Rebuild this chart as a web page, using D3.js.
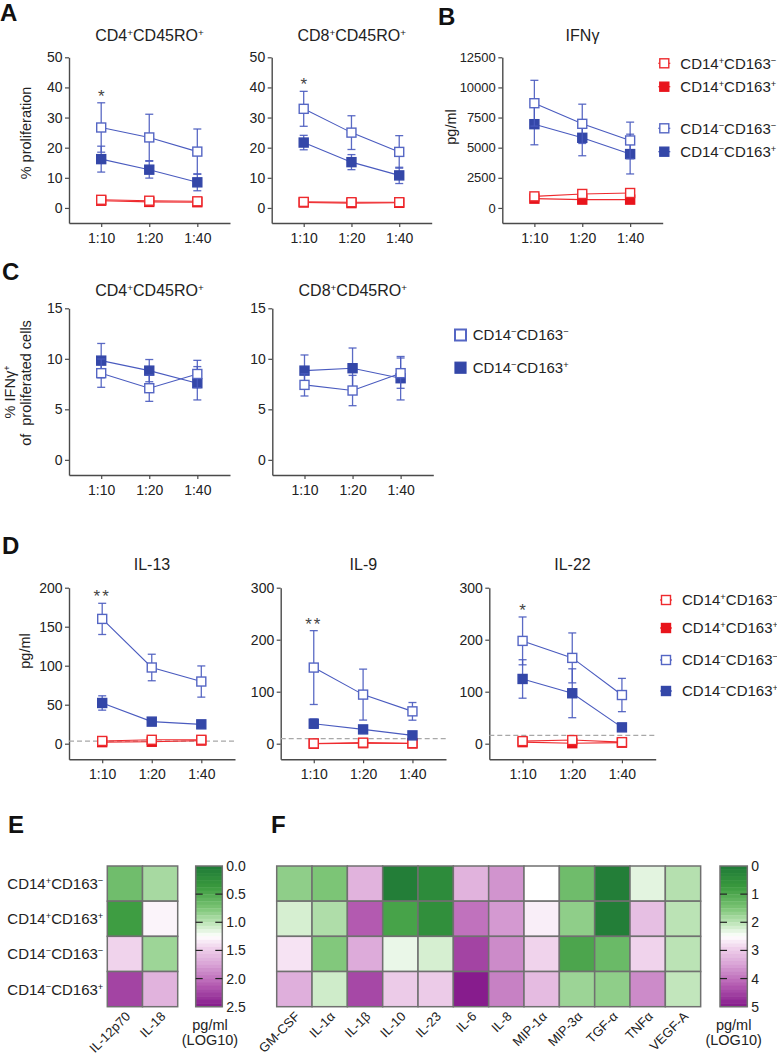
<!DOCTYPE html>
<html><head><meta charset="utf-8">
<script src="https://cdn.jsdelivr.net/npm/d3@7"></script>
<style>
body{margin:0;background:#fff;}
svg{display:block;font-family:Arial,"Liberation Sans",Helvetica,sans-serif;}
</style>
</head><body>
<svg id="chart" width="777" height="1055"></svg>
<script>
// ---------------- DATA ----------------
const ratios = ["1:10", "1:20", "1:40"];
const groups = ["CD14^+CD163^-", "CD14^+CD163^+", "CD14^-CD163^-", "CD14^-CD163^+"];

// Panel A: % proliferation (order: groups 0..3)
const cd4ProlMean = [[2.7, 2.4, 2.2], [2.4, 2.0, 1.9], [26.7, 23.4, 18.7], [16.2, 12.7, 8.5]];
const cd4ProlErr  = [[0.6, 0.5, 0.5], [0.5, 0.4, 0.4], [8.2, 7.7, 7.5], [4.3, 2.8, 2.8]];
const cd8ProlMean = [[2.0, 1.9, 1.9], [1.8, 1.6, 1.7], [32.9, 25.0, 18.6], [21.7, 15.2, 10.8]];
const cd8ProlErr  = [[0.4, 0.4, 0.4], [0.3, 0.3, 0.3], [5.8, 5.6, 5.4], [2.4, 2.5, 2.7]];
const sigCd4Prol = ["*", "", ""];
const sigCd8Prol = ["*", "", ""];

// Panel B: IFNγ pg/ml
const ifngMean = [[960, 1160, 1240], [770, 690, 690], [8690, 6980, 5600], [6950, 5820, 4470]];
const ifngErr  = [[250, 250, 280], [150, 150, 150], [1900, 1630, 1520], [1710, 1490, 1650]];

// Panel C: % IFNγ+ of proliferated cells (groups 2 and 3 only)
const cd4IfnMean = [[8.58, 7.09, 8.5], [9.82, 8.83, 7.58]];
const cd4IfnErr  = [[1.4, 1.3, 1.35], [1.7, 1.1, 1.65]];
const cd8IfnMean = [[7.42, 6.86, 8.58], [8.83, 9.07, 8.08]];
const cd8IfnErr  = [[1.1, 1.5, 1.5], [1.55, 2.0, 2.15]];

// Panel D: cytokines pg/ml
const il13Mean = [[3.5, 5, 5], [2, 2.5, 4], [160, 97.7, 79.7], [52.2, 28.3, 24.8]];
const il13Err  = [[2, 2, 2], [1.5, 1.5, 1.5], [20, 17, 20], [9.2, 3, 3]];
const il9Mean  = [[0.5, 2, 1], [0, 1, 0.5], [146.4, 94.4, 62.2], [38.5, 27.5, 16]];
const il9Err   = [[1, 2, 1], [1, 1, 1], [71, 49, 17], [9, 4, 3]];
const il22Mean = [[5, 7, 3], [3, 1, 2], [197.7, 165, 93.6], [124.5, 97, 31.4]];
const il22Err  = [[3, 4, 2], [2, 1, 1], [46, 48, 32], [37, 47, 5]];
const sigIl13 = ["**", "", ""];
const sigIl9  = ["**", "", ""];
const sigIl22 = ["*", "", ""];
const lodIl13 = 3.3, lodIl9 = 9.6, lodIl22 = 16;

// Panel E heatmap (LOG10 pg/ml)
const eCols = ["IL-12p70", "IL-18"];
const eVals = [[0.68, 0.92], [0.40, 1.30], [1.45, 0.88], [2.25, 1.65]];
const eTicks = ["0.0", "0.5", "1.0", "1.5", "2.0", "2.5"];

// Panel F heatmap (LOG10 pg/ml)
const fCols = ["GM-CSF", "IL-1α", "IL-1β", "IL-10", "IL-23", "IL-6", "IL-8", "MIP-1α", "MIP-3α", "TGF-α", "TNFα", "VEGF-A"];
const fVals = [
  [1.65, 1.5, 3.3, 0.1, 0.4, 3.3, 3.65, 2.5, 1.35, 0.1, 2.3, 1.95],
  [2.2, 1.9, 4.25, 0.9, 0.5, 4.0, 3.6, 2.65, 1.65, 0.1, 3.15, 2.0],
  [2.75, 1.55, 3.4, 2.35, 2.2, 4.5, 3.75, 2.9, 0.95, 1.3, 2.9, 2.0],
  [3.35, 2.15, 4.45, 3.0, 3.0, 4.95, 3.85, 3.2, 1.75, 1.65, 3.75, 2.05]
];
const fTicks = ["0", "1", "2", "3", "4", "5"];

// ---------------- STYLE ----------------
const seriesStyle = [
  {color: "#ee2a2e", line: "#ee2a2e", open: true},
  {color: "#e8141c", line: "#ee2a2e", open: false},
  {color: "#5566c4", line: "#4a5bbf", open: true},
  {color: "#3447a8", line: "#4a5bbf", open: false}
];
const axisColor = "#4a4a4a";
const textColor = "#222";

const svg = d3.select("#chart");

function rich(sel, s) {
  const parts = s.split(/(\^[+\-])/);
  parts.forEach(p => {
    if (!p) return;
    if (p[0] === "^") {
      sel.append("tspan").attr("baseline-shift", "super").style("font-size", "62%")
        .text(p[1] === "+" ? "+" : "\u2212");
    } else {
      sel.append("tspan").text(p);
    }
  });
  return sel;
}

function linePanel(cfg) {
  const g = svg.append("g");
  const x = d3.scaleLinear().domain([-0.67, 2.68]).range([cfg.x0, cfg.x0 + cfg.w]);
  const y = d3.scaleLinear().domain([-cfg.ymax * 0.1, cfg.ymax]).range([cfg.yBot, cfg.yTop]);

  // y axis
  const ya = g.append("g").attr("transform", `translate(${cfg.x0},0)`)
    .call(d3.axisLeft(y).tickValues(cfg.ticks).tickFormat(d3.format("d")).tickSize(4).tickPadding(2.5).tickSizeOuter(0));
  ya.select(".domain").attr("stroke", axisColor).attr("stroke-width", 1.4);
  ya.selectAll(".tick line").attr("stroke", axisColor).attr("stroke-width", 1.2);
  ya.selectAll(".tick text").attr("fill", textColor).style("font-size", (cfg.tickFont || 14) + "px")
    .style("font-family", "Arial, 'Liberation Sans', sans-serif");

  // x axis
  const xa = g.append("g").attr("transform", `translate(0,${cfg.yBot})`)
    .call(d3.axisBottom(x).tickValues([0, 1, 2]).tickFormat((d, i) => ratios[i]).tickSize(4).tickPadding(6).tickSizeOuter(0));
  xa.select(".domain").attr("stroke", axisColor).attr("stroke-width", 1.4);
  xa.selectAll(".tick line").attr("stroke", axisColor).attr("stroke-width", 1.2);
  xa.selectAll(".tick text").attr("fill", textColor).style("font-size", "14px")
    .style("font-family", "Arial, 'Liberation Sans', sans-serif");

  // title
  rich(g.append("text").attr("x", cfg.x0 + cfg.w / 2).attr("y", cfg.titleY)
    .attr("text-anchor", "middle").attr("fill", textColor).style("font-size", "16px"), cfg.title);

  // LOD line
  if (cfg.lod != null) {
    g.append("line").attr("x1", cfg.x0).attr("x2", cfg.x0 + cfg.w)
      .attr("y1", y(cfg.lod)).attr("y2", y(cfg.lod))
      .attr("stroke", "#a8a8a8").attr("stroke-width", 1.3).attr("stroke-dasharray", "5,3");
  }

  const order = cfg.order;
  order.forEach(k => {
    const gi = cfg.gidx[k];
    const st = seriesStyle[gi];
    const m = cfg.means[k], e = cfg.errs[k];
    const sg = g.append("g");
    // error bars
    m.forEach((v, i) => {
      const cx = x(i);
      sg.append("line").attr("x1", cx).attr("x2", cx).attr("y1", y(v - e[i])).attr("y2", y(v + e[i]))
        .attr("stroke", st.line).attr("stroke-width", 1.3).attr("opacity", 0.9);
      [v - e[i], v + e[i]].forEach(b => {
        sg.append("line").attr("x1", cx - 4).attr("x2", cx + 4).attr("y1", y(b)).attr("y2", y(b))
          .attr("stroke", st.line).attr("stroke-width", 1.3).attr("opacity", 0.9);
      });
    });
    // connecting line
    sg.append("path").attr("d", d3.line().x((d, i) => x(i)).y(d => y(d))(m))
      .attr("fill", "none").attr("stroke", st.line).attr("stroke-width", 1.1);
    // markers
    const s = 9;
    m.forEach((v, i) => {
      sg.append("rect").attr("x", x(i) - s / 2).attr("y", y(v) - s / 2).attr("width", s).attr("height", s)
        .attr("fill", st.open ? "#fff" : st.color).attr("stroke", st.color).attr("stroke-width", 1.4);
    });
  });

  // significance
  if (cfg.sig) {
    cfg.sig.forEach((s, i) => {
      if (!s) return;
      const top = d3.max(cfg.means.map((m, k) => m[i] + cfg.errs[k][i]));
      g.append("text").attr("x", x(i)).attr("y", y(top) - 1).attr("text-anchor", "middle")
        .attr("fill", "#444").style("font-size", "17px").style("letter-spacing", s.length > 1 ? "2px" : "0px")
        .text(s);
    });
  }
}

function yLabel(x, y, txt) {
  svg.append("text").attr("transform", `translate(${x},${y}) rotate(-90)`).attr("text-anchor", "middle")
    .attr("fill", textColor).style("font-size", "14.5px").text(txt);
}

function panelLetter(x, y, t) {
  svg.append("text").attr("x", x).attr("y", y).attr("fill", "#111").style("font-size", "24px")
    .style("font-weight", "bold").text(t);
}

function legend(x, ys, idx) {
  idx.forEach((gi, r) => {
    const st = seriesStyle[gi];
    const yy = ys[r];
    svg.append("line").attr("x1", x - 6).attr("x2", x + 6).attr("y1", yy).attr("y2", yy)
      .attr("stroke", st.line).attr("stroke-width", 1.2);
    svg.append("rect").attr("x", x - 4.5).attr("y", yy - 4.5).attr("width", 9).attr("height", 9)
      .attr("fill", st.open ? "#fff" : st.color).attr("stroke", st.color).attr("stroke-width", 1.4);
    rich(svg.append("text").attr("x", x + 16).attr("y", yy).attr("dy", "0.36em").attr("fill", textColor)
      .style("font-size", "15px"), groups[gi]);
  });
}

// ---------------- PANEL A ----------------
panelLetter(0, 21, "A");
linePanel({x0: 69, w: 161, yTop: 57.3, yBot: 223, ymax: 50, ticks: [0, 10, 20, 30, 40, 50],
  means: cd4ProlMean, errs: cd4ProlErr, gidx: [0, 1, 2, 3], order: [1, 0, 3, 2],
  title: "CD4^+CD45RO^+", titleY: 40.5, sig: sigCd4Prol});
linePanel({x0: 271.7, w: 160, yTop: 57.3, yBot: 223, ymax: 50, ticks: [0, 10, 20, 30, 40, 50],
  means: cd8ProlMean, errs: cd8ProlErr, gidx: [0, 1, 2, 3], order: [1, 0, 3, 2],
  title: "CD8^+CD45RO^+", titleY: 40.5, sig: sigCd8Prol});
yLabel(31, 133, "% proliferation");

// ---------------- PANEL B ----------------
panelLetter(438, 25, "B");
linePanel({x0: 502.3, w: 160.4, yTop: 57.3, yBot: 223, ymax: 12500, ticks: [0, 2500, 5000, 7500, 10000, 12500],
  means: ifngMean, errs: ifngErr, gidx: [0, 1, 2, 3], order: [1, 0, 3, 2],
  title: "IFNγ", titleY: 40.5, tickFont: 13});
yLabel(455.5, 127, "pg/ml");
legend(664.3, [63.3, 86.7, 128.3, 151.7], [0, 1, 2, 3]);

// ---------------- PANEL C ----------------
panelLetter(2, 280, "C");
linePanel({x0: 69, w: 161, yTop: 308.3, yBot: 475, ymax: 15, ticks: [0, 5, 10, 15],
  means: cd4IfnMean, errs: cd4IfnErr, gidx: [2, 3], order: [1, 0],
  title: "CD4^+CD45RO^+", titleY: 296});
linePanel({x0: 272.3, w: 161, yTop: 308.3, yBot: 475, ymax: 15, ticks: [0, 5, 10, 15],
  means: cd8IfnMean, errs: cd8IfnErr, gidx: [2, 3], order: [1, 0],
  title: "CD8^+CD45RO^+", titleY: 296});
{
  const t1 = svg.append("text").attr("transform", "translate(14.5,392) rotate(-90)").attr("text-anchor", "middle")
    .attr("fill", textColor).style("font-size", "14.5px");
  t1.append("tspan").text("% IFNγ");
  t1.append("tspan").attr("baseline-shift", "super").style("font-size", "62%").text("+");
  svg.append("text").attr("transform", "translate(31,383) rotate(-90)").attr("text-anchor", "middle")
    .attr("fill", textColor).style("font-size", "14.5px").attr("xml:space", "preserve").text("of  proliferated cells");
  // legend C
  [2, 3].forEach((gi, r) => {
    const st = seriesStyle[gi];
    const yy = [335, 367.7][r];
    svg.append("rect").attr("x", 460.5 - 5.5).attr("y", yy - 5.5).attr("width", 11).attr("height", 11)
      .attr("fill", st.open ? "#fff" : st.color).attr("stroke", st.color).attr("stroke-width", st.open ? 2 : 1.2);
    rich(svg.append("text").attr("x", 472.7).attr("y", yy).attr("dy", "0.36em").attr("fill", textColor)
      .style("font-size", "15px"), groups[gi]);
  });
}

// ---------------- PANEL D ----------------
panelLetter(2, 554, "D");
linePanel({x0: 69, w: 166, yTop: 587.7, yBot: 759.3, ymax: 200, ticks: [0, 50, 100, 150, 200],
  means: il13Mean, errs: il13Err, gidx: [0, 1, 2, 3], order: [1, 0, 3, 2],
  title: "IL-13", titleY: 570, sig: sigIl13, lod: lodIl13});
linePanel({x0: 280.7, w: 165.3, yTop: 587.7, yBot: 759.3, ymax: 300, ticks: [0, 100, 200, 300],
  means: il9Mean, errs: il9Err, gidx: [0, 1, 2, 3], order: [1, 0, 3, 2],
  title: "IL-9", titleY: 570, sig: sigIl9, lod: lodIl9});
linePanel({x0: 489.3, w: 166.4, yTop: 587.7, yBot: 759.3, ymax: 300, ticks: [0, 100, 200, 300],
  means: il22Mean, errs: il22Err, gidx: [0, 1, 2, 3], order: [1, 0, 3, 2],
  title: "IL-22", titleY: 570, sig: sigIl22, lod: lodIl22});
yLabel(29.5, 651, "pg/ml");
legend(666, [600, 628, 660, 691], [0, 1, 2, 3]);

// ---------------- HEATMAPS ----------------
const colorStops = [[0, "#1f7a37"], [0.15, "#3a9a3e"], [0.3, "#7cc576"], [0.42, "#c8e9c2"], [0.5, "#ffffff"],
  [0.58, "#f0d3ec"], [0.7, "#d9a3d6"], [0.85, "#b35ab0"], [1, "#84188a"]];
const heat = d3.scaleLinear().domain(colorStops.map(d => d[0])).range(colorStops.map(d => d[1]))
  .interpolate(d3.interpolateRgb).clamp(true);

function heatmap(cfg) {
  const g = svg.append("g");
  const x = d3.scaleBand().domain(cfg.cols).range([cfg.x0, cfg.x0 + cfg.cellW * cfg.cols.length]);
  const y = d3.scaleBand().domain(groups).range([866, 1006.7]);
  const norm = d3.scaleLinear().domain([0, cfg.max]).range([0, 1]);
  cfg.vals.forEach((row, r) => {
    row.forEach((v, c) => {
      g.append("rect").attr("x", x(cfg.cols[c])).attr("y", y(groups[r]))
        .attr("width", x.bandwidth()).attr("height", y.bandwidth())
        .attr("fill", heat(norm(v))).attr("stroke", "#707070").attr("stroke-width", 1.5);
    });
  });
  // column labels
  cfg.cols.forEach(c => {
    const cx = x(c) + x.bandwidth() / 2 + 3;
    g.append("text").attr("transform", `translate(${cx},1014) rotate(-45)`).attr("text-anchor", "end")
      .attr("dy", "0.35em").attr("fill", textColor).style("font-size", "13px").text(c);
  });
  if (cfg.rowLabels) {
    groups.forEach(gname => {
      rich(g.append("text").attr("x", cfg.x0 - 4).attr("y", y(gname) + y.bandwidth() / 2).attr("dy", "0.36em")
        .attr("text-anchor", "end").attr("fill", textColor).style("font-size", "15px"), gname);
    });
  }
  // colour bar
  const by = d3.scaleLinear().domain([0, cfg.max]).range([866, 1006.7]);
  const nb = 40;
  d3.range(nb).forEach(i => {
    const v0 = cfg.max * i / nb, v1 = cfg.max * (i + 1) / nb;
    g.append("rect").attr("x", cfg.barX).attr("y", by(v0)).attr("width", cfg.barW).attr("height", by(v1) - by(v0) + 0.4)
      .attr("fill", heat(norm((v0 + v1) / 2)));
  });
  g.append("rect").attr("x", cfg.barX).attr("y", 866).attr("width", cfg.barW).attr("height", 140.7)
    .attr("fill", "none").attr("stroke", "#707070").attr("stroke-width", 1.5);
  cfg.ticks.forEach((t, i) => {
    const v = cfg.max * i / (cfg.ticks.length - 1);
    if (i > 0 && i < cfg.ticks.length - 1) {
      g.append("line").attr("x1", cfg.barX).attr("x2", cfg.barX + 7).attr("y1", by(v)).attr("y2", by(v))
        .attr("stroke", "#222").attr("stroke-width", 1.2);
      g.append("line").attr("x1", cfg.barX + cfg.barW - 7).attr("x2", cfg.barX + cfg.barW).attr("y1", by(v)).attr("y2", by(v))
        .attr("stroke", "#222").attr("stroke-width", 1.2);
    }
    g.append("text").attr("x", cfg.barX + cfg.barW + 4).attr("y", by(v)).attr("dy", "0.36em")
      .attr("fill", textColor).style("font-size", "14px").text(t);
  });
  const lx = cfg.barX + cfg.barW / 2 + cfg.unitDx;
  g.append("text").attr("x", lx).attr("y", 1030).attr("text-anchor", "middle").attr("fill", textColor)
    .style("font-size", "14.5px").text("pg/ml");
  g.append("text").attr("x", lx).attr("y", 1045).attr("text-anchor", "middle").attr("fill", textColor)
    .style("font-size", "14.5px").text("(LOG10)");
}

panelLetter(8, 833, "E");
heatmap({cols: eCols, vals: eVals, x0: 107.3, cellW: 35.2, max: 2.5, ticks: eTicks,
  barX: 195.7, barW: 26.6, rowLabels: true, unitDx: 1});
panelLetter(271, 833, "F");
heatmap({cols: fCols, vals: fVals, x0: 276.7, cellW: 35.33, max: 5, ticks: fTicks,
  barX: 720, barW: 27.3, rowLabels: false, unitDx: 0});
</script>
</body></html>
